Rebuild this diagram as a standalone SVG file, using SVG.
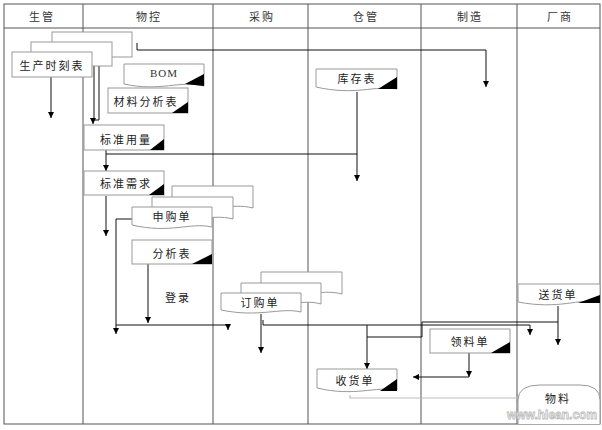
<svg xmlns="http://www.w3.org/2000/svg" width="602" height="430" viewBox="0 0 602 430">
<defs>
<style>
.lane{stroke:#555;stroke-width:1;fill:none}
.box{fill:#fff;stroke:#999;stroke-width:1}
.tri{fill:#000}
.t{font-family:"Noto Sans CJK SC","Noto Sans CJK JP",sans-serif;font-size:11px;fill:#222;letter-spacing:2px;text-anchor:middle;dominant-baseline:central}
.h{font-family:"Noto Sans CJK SC","Noto Sans CJK JP",sans-serif;font-size:11px;fill:#333;letter-spacing:2px;text-anchor:middle;dominant-baseline:central}
.c{stroke:#111;stroke-width:1;fill:none}
</style>
<marker id="ar" markerWidth="6" markerHeight="6" refX="6" refY="3" orient="auto" markerUnits="userSpaceOnUse">
<path d="M0,0 L6,3 L0,6 z" fill="#000"/>
</marker>
<marker id="ao" markerWidth="6" markerHeight="8" refX="5" refY="4" orient="auto" markerUnits="userSpaceOnUse">
<path d="M0,0 L5,4 L0,8" fill="none" stroke="#999"/>
</marker>
</defs>
<rect width="602" height="430" fill="#fff"/>
<g id="lanes">
<rect x="4" y="4" width="596" height="420" class="lane"/>
<line x1="4" y1="28" x2="600" y2="28" class="lane"/>
<line x1="83" y1="4" x2="83" y2="424" class="lane"/>
<line x1="213" y1="4" x2="213" y2="424" class="lane" stroke="#222" stroke-width="1.4"/>
<line x1="308" y1="4" x2="308" y2="424" class="lane"/>
<line x1="421" y1="4" x2="421" y2="424" class="lane"/>
<line x1="517" y1="4" x2="517" y2="424" class="lane"/>
<text x="42" y="16" class="h">生管</text>
<text x="149" y="16" class="h">物控</text>
<text x="262" y="16" class="h">采购</text>
<text x="366" y="16" class="h">仓管</text>
<text x="470" y="16" class="h">制造</text>
<text x="560" y="16" class="h">厂商</text>
</g>
<g id="connectors">
<path class="c" d="M51,77 V118" marker-end="url(#ar)"/>
<path class="c" d="M94,120 V48 H99 V120 H93 V124" marker-end="url(#ar)"/>
<path class="c" d="M137,43 V50 H486 V87" marker-end="url(#ar)"/>
<path class="c" d="M357,92 V181" marker-end="url(#ar)"/>
<path class="c" d="M106,150 V171" marker-end="url(#ar)"/>
<path class="c" d="M106,154 H357"/>
<path class="c" d="M106,196 V236" marker-end="url(#ar)"/>
<path class="c" d="M132,219 H116 V334" marker-end="url(#ar)"/>
<path class="c" d="M116,325 H228 V330" marker-end="url(#ar)"/>
<path class="c" d="M148,264 V323" marker-end="url(#ar)"/>
<path class="c" d="M261,314 V353" marker-end="url(#ar)"/>
<path class="c" d="M263,320 V325 H422"/>
<path class="c" d="M367,325 V369" marker-end="url(#ar)"/>
<path class="c" d="M367,337 H422 V322 H558"/>
<path class="c" d="M422,325 H530 V335" marker-end="url(#ar)"/>
<path class="c" d="M558,306 V345" marker-end="url(#ar)"/>
<path class="c" d="M469,353 V377" marker-end="url(#ar)"/>
<path class="c" d="M469,377 H413" marker-end="url(#ar)"/>
<path d="M350,395 V398 H521" fill="none" stroke="#bbb" stroke-width="1.2" marker-end="url(#ao)"/>
</g>
<g id="n-schedule">
<rect x="52" y="32" width="80" height="25" class="box" stroke="#333"/>
<rect x="31" y="42" width="81" height="24" class="box" stroke="#333"/>
<rect x="12" y="52" width="80" height="25" class="box" stroke="#555"/>
<text x="52" y="65" class="t">生产时刻表</text>
</g>
<g id="n-bom">
<path class="box" d="M124,64 H204 V86 C180,80 160,92 124,84 Z"/>
<path class="tri" d="M185,84 L204,74 V86 Z"/>
<text x="164" y="73" font-family="'Liberation Serif',serif" font-size="11" letter-spacing="1" fill="#333" text-anchor="middle" dominant-baseline="central">BOM</text>
</g>
<g id="n-material">
<rect x="108" y="88" width="80" height="25" class="box"/>
<path class="tri" d="M172,113 L188,102 V113 Z"/>
<text x="146" y="101" class="t">材料分析表</text>
</g>
<g id="n-stock">
<path class="box" d="M316,69 H397 V89 C375,85 355,96 316,87 Z"/>
<path class="tri" d="M378,89 L397,77 V89 Z"/>
<text x="357" y="78" class="t">库存表</text>
</g>
<g id="n-usage">
<rect x="84" y="125" width="80" height="25" class="box"/>
<path class="tri" d="M150,150 L164,139 V150 Z"/>
<text x="126" y="139" class="t">标准用量</text>
</g>
<g id="n-demand">
<rect x="84" y="171" width="80" height="24" class="box"/>
<path class="tri" d="M149,195 L164,184 V195 Z"/>
<text x="126" y="183" class="t">标准需求</text>
</g>
<g id="n-requisition">
<path class="box" d="M172,186 H253 V208 C230,202 210,214 172,206 Z"/>
<path class="box" d="M152,197 H233 V219 C210,213 190,225 152,217 Z"/>
<path class="box" d="M132,207 H212 V227 C190,222 170,234 132,225 Z"/>
<text x="172" y="216" class="t">申购单</text>
</g>
<g id="n-analysis">
<rect x="132" y="240" width="80" height="24" class="box"/>
<path class="tri" d="M192,264 L212,254 V264 Z"/>
<text x="172" y="253" class="t">分析表</text>
</g>
<g id="n-login">
<text x="178" y="297" class="t">登录</text>
</g>
<g id="n-po">
<path class="box" d="M261,272 H342 V294 C320,288 300,300 261,292 Z"/>
<path class="box" d="M241,283 H321 V304 C300,298 280,310 241,302 Z"/>
<path class="box" d="M221,293 H301 V312 C280,307 260,318 221,310 Z"/>
<text x="260" y="302" class="t">订购单</text>
</g>
<g id="n-delivery">
<path class="box" d="M518,284 H600 V302 C578,298 560,310 518,302 Z"/>
<path class="tri" d="M578,303 L600,295 V303 Z"/>
<text x="558" y="294" class="t">送货单</text>
</g>
<g id="n-pick">
<rect x="430" y="329" width="80" height="24" class="box" stroke="#666"/>
<path class="tri" d="M491,353 L510,342 V353 Z"/>
<text x="470" y="341" class="t">领料单</text>
</g>
<g id="n-receipt">
<path class="box" d="M317,369 H397 V390 C375,386 355,397 317,388 Z"/>
<path class="tri" d="M380,391 L397,379 V391 Z"/>
<text x="355" y="380" class="t">收货单</text>
</g>
<g id="n-goods">
<path class="box" d="M518,424 V400 Q518,385 540,385 H580 Q600,385 600,400 V424"/>
<text x="558" y="398" class="t">物料</text>
</g>
<g id="watermark">
<text x="552" y="419" font-family="'Liberation Sans',sans-serif" font-size="12" font-weight="bold" fill="#fff" stroke="#bbb" stroke-width="0.8" text-anchor="middle">www.hlean.com</text>
</g>
</svg>
